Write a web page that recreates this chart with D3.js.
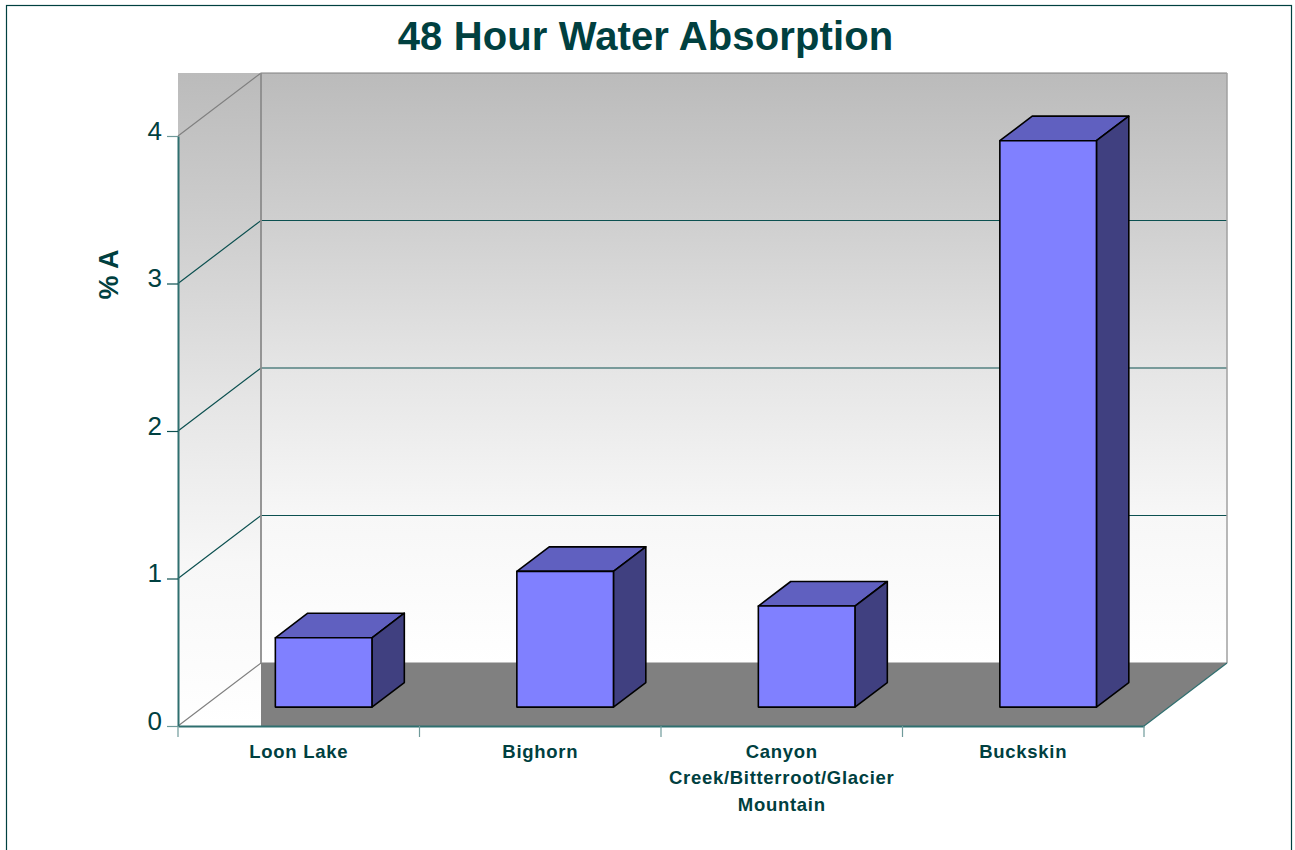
<!DOCTYPE html>
<html>
<head>
<meta charset="utf-8">
<title>48 Hour Water Absorption</title>
<script src="https://cdn.jsdelivr.net/npm/d3@7"></script>
<style>
    html, body { margin: 0; padding: 0; background: #fff; }
    svg { display: block; }
    text { font-family: "Liberation Sans", Arial, sans-serif; fill: #004040; }
</style>
</head>
<body>
<div id="my_dataviz"></div>
<script>
const categories = ["Loon Lake", "Bighorn", "Canyon Creek/Bitterroot/Glacier Mountain", "Buckskin"];
const category_lines = [["Loon Lake"], ["Bighorn"], ["Canyon", "Creek/Bitterroot/Glacier", "Mountain"], ["Buckskin"]];
const values = [0.47, 0.92, 0.685, 3.84];
const y_ticks = [0, 1, 2, 3, 4];

const width = 1295, height = 850;
const teal = "#004040", grey = "#808080";

const svg = d3.select("#my_dataviz")
    .append("svg")
        .attr("width", width)
        .attr("height", height);

// Front plane scales, the back wall is the same thing shifted by the depth
const x = d3.scaleBand().domain(categories).range([178, 1144]);
const y = d3.scaleLinear().domain([0, 4]).range([726, 136]);
const depth = { x: 83, y: -63 };

// z goes 0 (front of the floor) to 1 (back wall)
const px = (vx, z) => vx + depth.x * z;
const py = (vy, z) => vy + depth.y * z;

const defs = svg.append("defs");
function wall_gradient(id, y1, y2) {
    const g = defs.append("linearGradient")
        .attr("id", id)
        .attr("gradientUnits", "userSpaceOnUse")
        .attr("x1", 0).attr("x2", 0).attr("y1", y1).attr("y2", y2);
    // the fade is not quite linear in the original, it flattens out near the floor
    [[0, "#bbbbbb"], [0.25, "#cfcfcf"], [0.5, "#e5e5e5"], [0.75, "#f7f7f7"], [1, "#ffffff"]].forEach(s => {
        g.append("stop").attr("offset", s[0]).attr("stop-color", s[1]);
    });
}
wall_gradient("back_wall", py(y(4), 1), py(y(0), 1));
wall_gradient("side_wall", py(y(4), 1), y(0));

const x0 = x.range()[0], x1 = x.range()[1];
const poly = pts => pts.map(p => p.join(",")).join(" ");

// Outer frame, runs off the bottom of the page
svg.append("rect")
    .attr("x", 6.5).attr("y", 5.5)
    .attr("width", 1285).attr("height", 860)
    .attr("fill", "none")
    .attr("stroke", teal).attr("stroke-width", 1.2);

// Walls
svg.append("rect")
    .attr("x", x0).attr("y", py(y(4), 1))
    .attr("width", depth.x).attr("height", y(0) - py(y(4), 1))
    .attr("fill", "url(#side_wall)");
svg.append("rect")
    .attr("x", px(x0, 1)).attr("y", py(y(4), 1))
    .attr("width", x1 - x0).attr("height", y(0) - py(y(4), 1) + depth.y)
    .attr("fill", "url(#back_wall)");

// Floor
svg.append("polygon")
    .attr("points", poly([
        [px(x0, 1), py(y(0), 1)], [px(x1, 1), py(y(0), 1)],
        [x1, y(0)], [px(x0, 1), y(0)]
    ]))
    .attr("fill", grey);

// Grid lines: diagonal on the side wall, then across the back
y_ticks.forEach(t => {
    const c = (t === 0 || t === 4) ? grey : "#0c5050";
    svg.append("polyline")
        .attr("points", poly([[x0, y(t)], [px(x0, 1), py(y(t), 1)], [px(x1, 1), py(y(t), 1)]]))
        .attr("fill", "none")
        .attr("stroke", c).attr("stroke-width", 1.2);
});

// Wall edges
svg.append("line")
    .attr("x1", px(x0, 1)).attr("x2", px(x0, 1))
    .attr("y1", py(y(4), 1)).attr("y2", py(y(0), 1))
    .attr("stroke", "#8c8c8c").attr("stroke-width", 1.8);
svg.append("line")
    .attr("x1", px(x1, 1)).attr("x2", px(x1, 1))
    .attr("y1", py(y(4), 1)).attr("y2", py(y(0), 1))
    .attr("stroke", "#a0a0a0").attr("stroke-width", 1.5);
svg.append("line")
    .attr("x1", x1).attr("x2", px(x1, 1))
    .attr("y1", y(0)).attr("y2", py(y(0), 1))
    .attr("stroke", "#2f6f6f").attr("stroke-width", 1.2);

// Bars
const z_front = 0.3, z_back = 0.69;
const bar_w = x.bandwidth() * 0.4;
const bars = svg.selectAll("g.bar")
    .data(categories.map((c, i) => ({ c: c, v: values[i] })))
    .join("g")
        .attr("class", "bar")
        .attr("stroke", "#000")
        .attr("stroke-width", 1.6)
        .attr("stroke-linejoin", "round");

const bar_left = d => x(d.c) + (x.bandwidth() - bar_w) / 2;

bars.append("polygon")
    .attr("fill", "#6060c0")
    .attr("points", d => {
        const l = bar_left(d), r = l + bar_w;
        return poly([
            [px(l, z_front), py(y(d.v), z_front)], [px(r, z_front), py(y(d.v), z_front)],
            [px(r, z_back), py(y(d.v), z_back)], [px(l, z_back), py(y(d.v), z_back)]
        ]);
    });
bars.append("polygon")
    .attr("fill", "#404080")
    .attr("points", d => {
        const r = bar_left(d) + bar_w;
        return poly([
            [px(r, z_front), py(y(d.v), z_front)], [px(r, z_back), py(y(d.v), z_back)],
            [px(r, z_back), py(y(0), z_back)], [px(r, z_front), py(y(0), z_front)]
        ]);
    });
bars.append("polygon")
    .attr("fill", "#8080ff")
    .attr("points", d => {
        const l = bar_left(d), r = l + bar_w;
        return poly([
            [px(l, z_front), py(y(d.v), z_front)], [px(r, z_front), py(y(d.v), z_front)],
            [px(r, z_front), py(y(0), z_front)], [px(l, z_front), py(y(0), z_front)]
        ]);
    });

// Y axis
const y_axis = svg.append("g")
    .attr("transform", `translate(${x0},0)`)
    .call(d3.axisLeft(y).tickValues(y_ticks).tickFormat(d3.format("d")).tickSize(11).tickSizeOuter(0).tickPadding(5));
y_axis.select(".domain").attr("stroke", "#2f6f6f").attr("stroke-width", 2);
y_axis.selectAll(".tick line")
    .attr("stroke", d => (d === 0 || d === 4) ? "#6f9a9a" : "#0c5050")
    .attr("stroke-width", 1.2);
y_axis.selectAll(".tick text")
    .attr("dy", "0.12em")
    .style("font-size", "26px")
    .style("font-family", '"Liberation Sans", Arial, sans-serif')
    .attr("fill", teal);

// X axis, ticks sit on the band edges so the axis itself only gives the labels
const x_axis = svg.append("g")
    .attr("transform", `translate(0,${y(0)})`)
    .call(d3.axisBottom(x).tickSize(0).tickFormat(""));
x_axis.select(".domain").attr("stroke", "#2f6f6f").attr("stroke-width", 2);
x_axis.selectAll(".tick text").remove();

const band_edges = categories.map(c => x(c)).concat([x1]);
svg.selectAll("line.x-tick")
    .data(band_edges)
    .join("line")
        .attr("class", "x-tick")
        .attr("x1", d => d).attr("x2", d => d)
        .attr("y1", y(0)).attr("y2", y(0) + 11)
        .attr("stroke", "#6f9a9a").attr("stroke-width", 1.2);

category_lines.forEach((lines, i) => {
    const t = svg.append("text")
        .attr("text-anchor", "middle")
        .style("font-size", "18.5px")
        .style("font-weight", "bold")
        .style("letter-spacing", "0.7px");
    lines.forEach((s, j) => {
        t.append("tspan")
            .attr("x", x(categories[i]) + x.bandwidth() / 2)
            .attr("y", 757.5 + j * 26.6)
            .text(s);
    });
});

// Title and y label
svg.append("text")
    .attr("x", 645.5).attr("y", 50)
    .attr("text-anchor", "middle")
    .style("font-size", "40px")
    .style("font-weight", "bold")
    .style("letter-spacing", "0.12px")
    .text("48 Hour Water Absorption");

svg.append("text")
    .attr("transform", "translate(118,274.5) rotate(-90)")
    .attr("text-anchor", "middle")
    .style("font-size", "27px")
    .style("font-weight", "bold")
    .text("% A");
</script>
</body>
</html>
